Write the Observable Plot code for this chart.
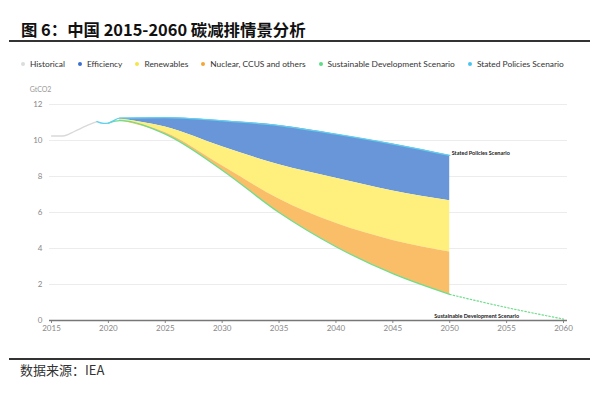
<!DOCTYPE html>
<html>
<head>
<meta charset="utf-8">
<script src="https://cdn.jsdelivr.net/npm/d3@7"></script>
<script src="https://cdn.jsdelivr.net/npm/@observablehq/plot@0.6"></script>
<style>
  html, body { margin: 0; padding: 0; background: #fff; }
  #wrap { position: relative; width: 600px; height: 394px; overflow: hidden; font-family: Lato, "Noto Sans", sans-serif; }
  #title { position: absolute; left: 21px; top: 19px; font-family: "Noto Sans CJK SC", sans-serif; font-weight: 700; font-size: 16.4px; line-height: 20px; color: #111; white-space: nowrap; }
  #rule1 { position: absolute; left: 9px; top: 40px; width: 581px; height: 1.5px; background: #333; }
  #legend { position: absolute; left: 21px; top: 59px; display: flex; align-items: center; font-size: 8.4px; color: #333; white-space: nowrap; }
  #legend .item { display: flex; align-items: center; margin-right: 13px; }
  #legend .dot { width: 4px; height: 4px; border-radius: 50%; margin-right: 5px; }
  #chart { position: absolute; left: 0; top: 80px; }
  #rule2 { position: absolute; left: 9px; top: 358px; width: 581px; height: 1.5px; background: #333; }
  #source { position: absolute; left: 20px; top: 361px; font-family: "Noto Sans CJK SC", sans-serif; font-size: 13px; line-height: 18px; color: #333; }
</style>
</head>
<body>
<div id="wrap">
  <div id="title">图 6：中国 2015-2060 碳减排情景分析</div>
  <div id="rule1"></div>
  <div id="legend"></div>
  <div id="chart"></div>
  <div id="rule2"></div>
  <div id="source">数据来源：IEA</div>
</div>
<script>
// ---- data ----
const legendNames = ["Historical", "Efficiency", "Renewables", "Nuclear, CCUS and others", "Sustainable Development Scenario", "Stated Policies Scenario"];
const legendColors = ["#dcdcdc", "#3d6fcc", "#f3e64a", "#f2a73a", "#63d98a", "#4cc3ef"];

const histYears = [2015, 2016, 2017, 2018, 2019];
const histValues = [10.25, 10.25, 10.5, 10.8, 11.05];

const statedYears = [2019, 2019.6, 2020, 2021, 2025, 2030, 2035, 2040, 2045, 2050];
const statedValues = [11.05, 10.95, 10.97, 11.24, 11.27, 11.1, 10.83, 10.35, 9.8, 9.17];

const areaYears = [2021, 2025, 2030, 2035, 2040, 2045, 2050];
const efficiencyTop = [11.24, 11.27, 11.1, 10.83, 10.35, 9.8, 9.17];
const renewablesTop = [11.2, 10.75, 9.65, 8.65, 7.9, 7.2, 6.65];
const nuclearTop = [11.15, 10.45, 8.6, 6.75, 5.4, 4.45, 3.8];
const sdsAtArea = [11.1, 10.35, 8.35, 6.0, 4.1, 2.6, 1.45];

const sdsYears = [2020, 2021, 2025, 2030, 2035, 2040, 2045, 2050];
const sdsValues = [10.97, 11.1, 10.35, 8.35, 6.0, 4.1, 2.6, 1.45];
const sdsTailYears = [2050, 2055, 2060];
const sdsTailValues = [1.45, 0.72, 0.08];

const yTicks = [0, 2, 4, 6, 8, 10, 12];
const xTicks = [2015, 2020, 2025, 2030, 2035, 2040, 2045, 2050, 2055, 2060];

const annotations = [
  {label: "Stated Policies Scenario", year: 2050, value: 9.17},
  {label: "Sustainable Development Scenario", year: 2050, value: 0}
];

// ---- legend ----
const leg = document.getElementById("legend");
legendNames.forEach((n, i) => {
  const it = document.createElement("div");
  it.className = "item";
  it.innerHTML = `<span class="dot" style="background:${legendColors[i]}"></span><span>${n}</span>`;
  leg.appendChild(it);
});

// ---- tables ----
const hist = histYears.map((x, i) => ({x, y: histValues[i]}));
const stated = statedYears.map((x, i) => ({x, y: statedValues[i]}));
const bands = areaYears.map((x, i) => ({x, eff: efficiencyTop[i], ren: renewablesTop[i], nuc: nuclearTop[i], sds: sdsAtArea[i]}));
const sds = sdsYears.map((x, i) => ({x, y: sdsValues[i]}));
const sdsTail = sdsTailYears.map((x, i) => ({x, y: sdsTailValues[i]}));

const curve = "monotone-x";
const chart = Plot.plot({
  width: 600,
  height: 260,
  marginLeft: 49,
  marginRight: 33,
  marginTop: 24,
  marginBottom: 20,
  insetLeft: 2,
  insetRight: 4,
  style: {fontFamily: "Lato, 'Noto Sans', sans-serif", fontSize: "8px", color: "#888", background: "transparent"},
  x: {domain: [2015, 2060], ticks: xTicks, tickFormat: d => String(d), tickSize: 3, tickPadding: 2, label: null},
  y: {domain: [0, 12], ticks: yTicks, tickSize: 0, tickPadding: 7, label: null},
  marks: [
    Plot.ruleY(yTicks.filter(d => d > 0), {stroke: "#ececec", strokeWidth: 1}),
    Plot.areaY(bands, {x: "x", y1: "ren", y2: "eff", fill: "#6896d8", curve}),
    Plot.areaY(bands, {x: "x", y1: "nuc", y2: "ren", fill: "#fff07d", curve}),
    Plot.areaY(bands, {x: "x", y1: "sds", y2: "nuc", fill: "#fabe69", curve}),
    Plot.line(hist, {x: "x", y: "y", stroke: "#d9d9d9", strokeWidth: 1.3, curve}),
    Plot.line(sds, {x: "x", y: "y", stroke: "#6fdc8c", strokeWidth: 1.3, curve}),
    Plot.line(sdsTail, {x: "x", y: "y", stroke: "#6fdc8c", strokeWidth: 1.2, strokeDasharray: "1.5,2", curve}),
    Plot.line(stated, {x: "x", y: "y", stroke: "#5fd0ee", strokeWidth: 1.3, curve}),
    Plot.ruleY([0], {stroke: "#777", strokeWidth: 1.3}),
    Plot.text(annotations.slice(0, 1), {x: "year", y: "value", text: "label", textAnchor: "start", dx: 2, dy: -2, fontSize: 5.5, fontWeight: "bold", fill: "#222"}),
    Plot.text(annotations.slice(1), {x: "year", y: "value", text: "label", textAnchor: "middle", dx: 27, dy: -4.5, fontSize: 5.5, fontWeight: "bold", fill: "#222"}),
    Plot.text(["GtCO2"], {frameAnchor: "top-left", text: d => d, textAnchor: "middle", dx: -9, dy: -17, fontSize: 7, fill: "#999"})
  ]
});
document.getElementById("chart").appendChild(chart);
</script>
</body>
</html>
